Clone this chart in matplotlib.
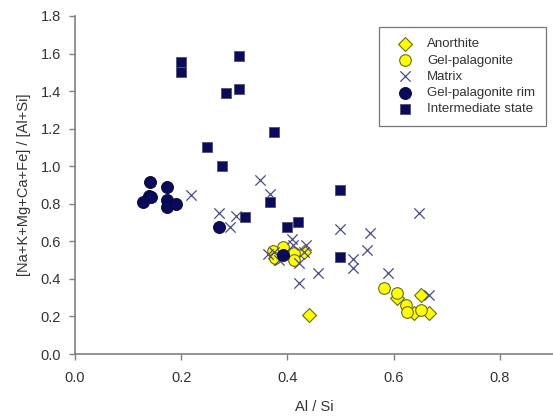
import matplotlib
matplotlib.use("Agg")
import matplotlib.pyplot as plt

plt.rcParams['font.family'] = ['Liberation Sans', 'DejaVu Sans']

# Al/Si and [Na+K+Mg+Ca+Fe]/[Al+Si] for each phase
anorthite_x = [0.441, 0.432, 0.376, 0.607, 0.638, 0.667, 0.651]
anorthite_y = [0.208, 0.545, 0.511, 0.297, 0.217, 0.217, 0.314]

gelpal_x = [0.372, 0.391, 0.376, 0.413, 0.413, 0.582, 0.607, 0.623, 0.626, 0.651]
gelpal_y = [0.550, 0.568, 0.510, 0.536, 0.500, 0.350, 0.323, 0.261, 0.225, 0.234]

matrix_x = [0.218, 0.349, 0.368, 0.272, 0.304, 0.291, 0.409, 0.499, 0.555, 0.435,
            0.410, 0.375, 0.363, 0.385, 0.422, 0.550, 0.523, 0.523, 0.458, 0.422,
            0.590, 0.647, 0.667, 0.432]
matrix_y = [0.847, 0.927, 0.852, 0.750, 0.735, 0.678, 0.612, 0.666, 0.642, 0.580,
            0.580, 0.543, 0.535, 0.500, 0.483, 0.554, 0.504, 0.456, 0.430, 0.376,
            0.430, 0.749, 0.314, 0.545]

rim_x = [0.142, 0.173, 0.139, 0.128, 0.143, 0.173, 0.173, 0.190, 0.272, 0.391]
rim_y = [0.916, 0.891, 0.843, 0.811, 0.836, 0.820, 0.781, 0.800, 0.678, 0.527]

inter_x = [0.200, 0.200, 0.308, 0.308, 0.285, 0.374, 0.249, 0.277, 0.499, 0.368,
           0.320, 0.420, 0.399, 0.499]
inter_y = [1.555, 1.500, 1.588, 1.410, 1.390, 1.180, 1.100, 1.000, 0.875, 0.810,
           0.728, 0.705, 0.678, 0.515]

x_ticks = [0.0, 0.2, 0.4, 0.6, 0.8]
y_ticks = [0.0, 0.2, 0.4, 0.6, 0.8, 1.0, 1.2, 1.4, 1.6, 1.8]

navy = '#0b0b5e'
yellow = '#ffff00'
yedge = '#6b6b10'
xcol = '#4a4a90'

fig = plt.figure(figsize=(5.53, 4.19), dpi=100)
ax = fig.add_axes([75 / 553, 1 - 354 / 419, 1 - 75 / 553, (354 - 16) / 419])

ax.scatter(anorthite_x, anorthite_y, marker='D', s=50, facecolor=yellow,
           edgecolor=yedge, linewidth=0.8, label='Anorthite', zorder=3)
ax.scatter(gelpal_x, gelpal_y, marker='o', s=70, facecolor=yellow,
           edgecolor=yedge, linewidth=0.8, label='Gel-palagonite', zorder=3)
ax.scatter(matrix_x, matrix_y, marker='x', s=55, color=xcol,
           linewidth=0.9, label='Matrix', zorder=4)
ax.scatter(rim_x, rim_y, marker='o', s=75, facecolor=navy,
           edgecolor='#050530', linewidth=0.6, label='Gel-palagonite rim', zorder=5)
ax.scatter(inter_x, inter_y, marker='s', s=55, facecolor=navy,
           edgecolor='#505070', linewidth=0.6, label='Intermediate state', zorder=5)

ax.set_xlim(0, 0.9)
ax.set_ylim(0, 1.8)
ax.set_xticks(x_ticks)
ax.set_xticklabels([f'{t:.1f}' for t in x_ticks])
ax.set_yticks(y_ticks)
ax.set_yticklabels([f'{t:.1f}' for t in y_ticks])

for side in ('top', 'right'):
    ax.spines[side].set_visible(False)
for side in ('left', 'bottom'):
    ax.spines[side].set_color('#808080')
    ax.spines[side].set_linewidth(1.2)
ax.tick_params(direction='out', length=4, width=1, color='#808080',
               labelsize=10.5, labelcolor='#333333')
ax.tick_params(axis='x', pad=8)
ax.tick_params(axis='y', pad=6)

ax.set_xlabel('Al / Si', fontsize=10.5, color='#333333', labelpad=11)
ax.set_ylabel('[Na+K+Mg+Ca+Fe] / [Al+Si]', fontsize=10.5, color='#333333', labelpad=7)

leg = ax.legend(loc='upper left', bbox_to_anchor=((379 - 75) / 478, (354 - 27) / 338),
                fontsize=9.5, frameon=True, fancybox=False, borderpad=0.85,
                labelspacing=0.3, handletextpad=0.6, borderaxespad=0,
                scatterpoints=1, handlelength=2.2)
leg.get_frame().set_edgecolor('#555555')
leg.get_frame().set_linewidth(0.9)
for t in leg.get_texts():
    t.set_color('#333333')

fig.savefig('out.png', dpi=100)
